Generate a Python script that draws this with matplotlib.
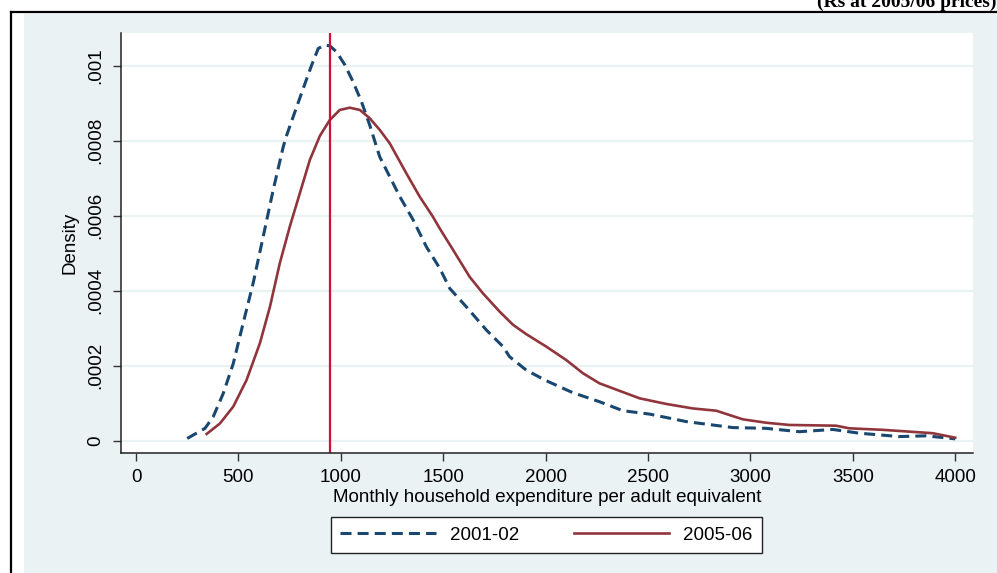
import matplotlib
matplotlib.use("Agg")
import matplotlib.pyplot as plt
from matplotlib.patches import Rectangle
from matplotlib.lines import Line2D

# ---- data ----
x_2001 = [250, 337, 377, 426, 475, 523, 572, 621, 670, 719, 736, 776, 817, 858, 890,
          922, 946, 979, 1020, 1060, 1101, 1141, 1190, 1239, 1288, 1353, 1418, 1483,
          1532, 1613, 1711, 1792, 1824, 1906, 2003, 2133, 2263, 2377, 2507, 2686, 2914,
          3076, 3239, 3402, 3532, 3727, 3857, 4000]
d_2001 = [6, 33, 64, 126, 206, 313, 420, 544, 669, 784, 815, 877, 940, 1002, 1046,
          1055, 1053, 1037, 1002, 957, 904, 842, 757, 704, 651, 589, 517, 460,
          406, 357, 295, 251, 224, 188, 160, 128, 104, 80, 71, 51, 35,
          33, 24, 30, 20, 11, 13, 5]
x_2005 = [345, 410, 475, 540, 605, 654, 702, 751, 800, 849, 898, 946, 995, 1044, 1093,
          1141, 1190, 1239, 1320, 1385, 1450, 1483, 1548, 1629, 1694, 1776, 1841, 1906,
          2003, 2101, 2182, 2263, 2459, 2589, 2719, 2833, 2963, 3076, 3190, 3418, 3483,
          3646, 3890, 4000]
d_2005 = [18, 46, 91, 162, 260, 357, 473, 571, 660, 749, 813, 855, 882, 888, 882,
          860, 829, 793, 713, 651, 597, 566, 509, 437, 393, 344, 309, 284,
          251, 215, 180, 153, 113, 98, 86, 80, 57, 48, 42, 40, 33,
          29, 20, 8]
poverty_line = 946
series_labels = ["2001-02", "2005-06"]
x_ticks = [0, 500, 1000, 1500, 2000, 2500, 3000, 3500, 4000]
y_ticks = [0, 0.0002, 0.0004, 0.0006, 0.0008, 0.001]
y_tick_labels = ["0", ".0002", ".0004", ".0006", ".0008", ".001"]
title_text = "(Rs at 2005/06 prices)"
x_label = "Monthly household expenditure per adult equivalent"
y_label = "Density"

# ---- style ----
plt.rcParams["font.family"] = ["Liberation Sans", "DejaVu Sans"]
W, H = 997, 573
fig = plt.figure(figsize=(W / 100, H / 100), dpi=100, facecolor="white")

BG = "#EAF2F3"
NAVY = "#1A476F"
MAROON = "#90353B"
RED = "#CC1238"
FS = 13.5

def fx(px):
    return px / W

def fy(py):
    return 1 - py / H

# outer light background and black frame (clipped by figure edge)
fig.patches.append(Rectangle((fx(24), 0), 1.0, fy(13.5), transform=fig.transFigure,
                             facecolor=BG, edgecolor="none", zorder=-2))
fig.lines.append(Line2D([fx(10.5), fx(10.5)], [0, fy(12)], transform=fig.transFigure,
                        color="black", lw=1.6, zorder=-1))
fig.lines.append(Line2D([fx(10.5), 1.01], [fy(12), fy(12)], transform=fig.transFigure,
                        color="black", lw=1.6, zorder=-1))

# title (partly clipped at top right, as in the reference)
fig.text(fx(996), fy(7), title_text, ha="right", va="baseline",
         fontsize=14, fontweight="bold", family=["Liberation Serif", "DejaVu Serif"])

ax = fig.add_axes([fx(120.7), fy(452.7), fx(973.3) - fx(120.7), fy(32.7) - fy(452.7)])
ax.set_facecolor("white")

x_per_px = 1000 / 204.8
ax.set_xlim(0 - (136 - 120.7) * x_per_px, 0 + (973.3 - 136) * x_per_px)
y_per_px = 0.0002 / 75.0
ax.set_ylim(0 - (452.7 - 440.7) * y_per_px, 0 + (440.7 - 32.7) * y_per_px)

ax.set_yticks(y_ticks)
ax.set_yticklabels(y_tick_labels)
ax.set_xticks(x_ticks)
ax.grid(axis="y", color=BG, lw=1.6)
ax.set_axisbelow(True)

for s in ["top", "right"]:
    ax.spines[s].set_visible(False)
for s in ["left", "bottom"]:
    ax.spines[s].set_color("#222222")
    ax.spines[s].set_linewidth(1.1)

ax.tick_params(axis="both", direction="out", length=6, width=1.0, color="#333333",
               labelsize=FS, pad=6)
ax.tick_params(axis="y", labelrotation=90)
for lab in ax.get_yticklabels():
    lab.set_va("center")

d01 = [v * 1e-6 for v in d_2001]
d05 = [v * 1e-6 for v in d_2005]
ax.plot(x_2001, d01, color=NAVY, lw=2.2, linestyle=(0, (3.6, 2.0)), label=series_labels[0],
        solid_joinstyle="round", dash_joinstyle="round")
ax.plot(x_2005, d05, color=MAROON, lw=1.9, label=series_labels[1], solid_joinstyle="round")
ax.axvline(poverty_line, color=RED, lw=1.6)

ax.set_xlabel(x_label, fontsize=FS, labelpad=2)
ax.set_ylabel(y_label, fontsize=FS, labelpad=6)

h, l = ax.get_legend_handles_labels()
leg = fig.legend(h, l, loc="center", bbox_to_anchor=(fx(546.5), fy(535)), ncol=2,
                 fontsize=FS, frameon=True, fancybox=False, shadow=False,
                 handlelength=5.1, handletextpad=0.75, columnspacing=2.9,
                 borderpad=0.5)
fr = leg.get_frame()
fr.set_edgecolor("#222222")
fr.set_linewidth(1.0)
fr.set_facecolor("white")
fr.set_alpha(1)

fig.savefig("out.png", dpi=100, facecolor="white")
